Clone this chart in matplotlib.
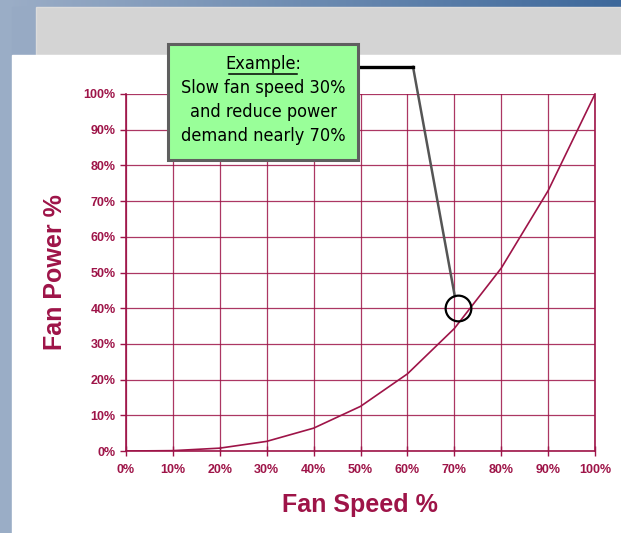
import matplotlib.pyplot as plt
from matplotlib.patches import Rectangle
from matplotlib.lines import Line2D
from matplotlib import font_manager
from matplotlib.font_manager import FontProperties
import numpy as np

speed = [0, 10, 20, 30, 40, 50, 60, 70, 80, 90, 100]
power = [0, 0.1, 0.8, 2.7, 6.4, 12.5, 21.6, 34.3, 51.2, 72.9, 100]
ticks = [0, 10, 20, 30, 40, 50, 60, 70, 80, 90, 100]
tick_labels = ['%d%%' % t for t in ticks]
note_lines = ['Slow fan speed 30%', 'and reduce power', 'demand nearly 70%']

RED = '#9e1448'
W, H = 621, 533

# narrow font for the callout, if one is installed
narrow = None
for f in font_manager.fontManager.ttflist:
    if f.name == 'Liberation Sans Narrow' and f.weight in (400, 'normal') and f.style == 'normal':
        narrow = f.fname
if narrow is None:
    for f in font_manager.fontManager.ttflist:
        if f.name == 'DejaVu Sans' and f.stretch == 'condensed' and f.weight in (400, 'normal', 'book') \
                and f.style == 'normal':
            narrow = f.fname
if narrow:
    note_font = FontProperties(fname=narrow, size=13)
else:
    note_font = FontProperties(family='Liberation Sans', size=12.5)

lab_font = FontProperties(family='Liberation Sans', weight='bold', size=18)
tick_font = FontProperties(family='Liberation Sans', weight='bold', size=9)

fig = plt.figure(figsize=(W / 100, H / 100), dpi=100)

def fx(px):
    return px / W

def fy(py):
    return 1 - py / H

# slide background
grad = np.linspace(0, 1, 256).reshape(1, -1)
bg = fig.add_axes([0, 0, 1, 1], zorder=-10)
bg.imshow(grad, extent=[0, 1, 0, 1], aspect='auto', cmap=plt.cm.colors.LinearSegmentedColormap.from_list('s', ['#9caec7', '#3d689b']))
bg.add_patch(Rectangle((0, 0), fx(12), 1, color='#9aadc6', zorder=2))
bg.add_patch(Rectangle((fx(12), 0), fx(24), fy(7), color='#97aac4', zorder=2))
bg.add_patch(Rectangle((fx(36), fy(55)), 1 - fx(36), fy(7) - fy(55),
                       facecolor='#d4d4d4', edgecolor='#dcdcdc', lw=1, zorder=3))
bg.add_patch(Rectangle((fx(12), 0), 1, fy(55), color='white', zorder=4))
bg.set_xlim(0, 1)
bg.set_ylim(0, 1)
bg.axis('off')

ax = fig.add_axes([fx(126), fy(451), fx(595) - fx(126), fy(94) - fy(451)])
ax.set_facecolor('none')
ax.plot(speed, power, color=RED, lw=1.2, zorder=3)
ax.set_xlim(0, 100)
ax.set_ylim(0, 100)
ax.set_xticks(ticks)
ax.set_yticks(ticks)
ax.set_xticklabels(tick_labels, fontproperties=tick_font)
ax.set_yticklabels(tick_labels, fontproperties=tick_font)
ax.grid(True, color=RED, lw=0.9, alpha=0.85)
ax.spines['top'].set_visible(False)
for s in ['left', 'bottom', 'right']:
    ax.spines[s].set_color(RED)
    ax.spines[s].set_linewidth(1.2)
ax.tick_params(axis='both', colors=RED, labelcolor=RED, length=4, width=1)
ax.tick_params(axis='x', direction='inout', length=7, pad=6)

fig.text(fx(360), fy(505), 'Fan Speed %', color=RED, fontproperties=lab_font,
         ha='center', va='center')
fig.text(fx(55), fy(272), 'Fan Power %', color=RED, fontproperties=lab_font,
         ha='center', va='center', rotation=90)

# callout
ax.plot([70.7], [40], marker='o', ms=18.5, mfc='none', mec='black', mew=1.6, clip_on=False, zorder=6)
ax.plot([61.2, 70.1], [107.6, 43.4], color='#555555', lw=1.8, clip_on=False, zorder=5)
fig.add_artist(Line2D([fx(360), fx(413)], [fy(67), fy(67)], color='black', lw=2.4))

fig.add_artist(Rectangle((fx(168), fy(160)), fx(358) - fx(168), fy(44) - fy(160),
                         facecolor='#99ff99', edgecolor='#5f5f5f', lw=2.2, zorder=7))
fig.text(fx(263), fy(64), 'Example:', fontproperties=note_font,
         ha='center', va='center', zorder=8)
fig.add_artist(Line2D([fx(229), fx(297)], [fy(74), fy(74)], color='black', lw=1.1, zorder=8))
for i, line in enumerate(note_lines):
    fig.text(fx(263), fy(88 + 24 * i), line, fontproperties=note_font,
             ha='center', va='center', zorder=8)

fig.savefig('out.png', dpi=100)
